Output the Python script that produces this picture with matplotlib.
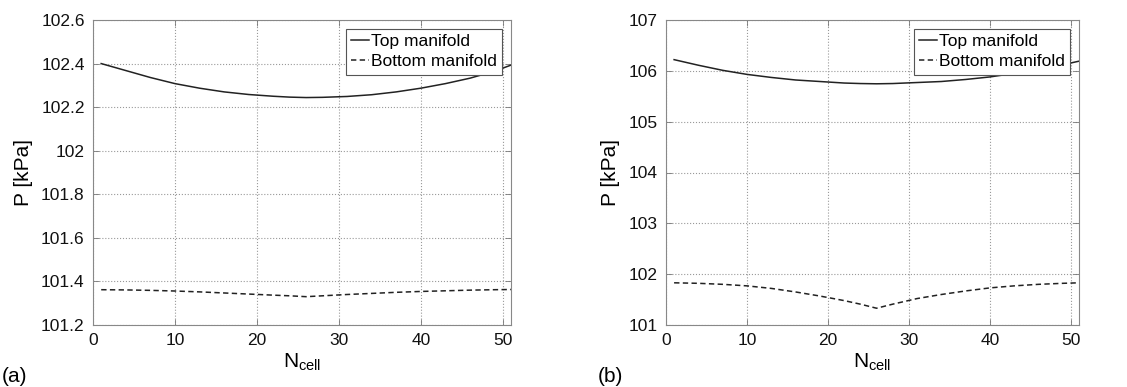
import matplotlib
matplotlib.use("Agg")
import matplotlib.pyplot as plt

plt.rcParams['font.family'] = ['Liberation Sans', 'DejaVu Sans']

# Cell index and manifold pressures [kPa]
n_cell = [1, 4, 7, 10, 13, 16, 19, 22, 24, 26, 28, 31, 34, 37, 40, 43, 46, 49, 51]

top_a = [102.400, 102.368, 102.336, 102.308, 102.287, 102.270, 102.258, 102.250,
         102.246, 102.244, 102.245, 102.249, 102.257, 102.270, 102.287, 102.308,
         102.333, 102.365, 102.393]
bottom_a = [101.362, 101.361, 101.359, 101.356, 101.352, 101.347, 101.342, 101.337,
            101.334, 101.330, 101.334, 101.340, 101.345, 101.350, 101.354, 101.357,
            101.360, 101.362, 101.363]

top_b = [106.22, 106.11, 106.01, 105.93, 105.87, 105.82, 105.79, 105.76,
         105.75, 105.745, 105.75, 105.77, 105.79, 105.83, 105.88, 105.95,
         106.03, 106.12, 106.19]
bottom_b = [101.83, 101.82, 101.80, 101.77, 101.72, 101.65, 101.57, 101.48,
            101.41, 101.33, 101.41, 101.52, 101.60, 101.67, 101.73, 101.77,
            101.80, 101.82, 101.83]

yticks_a = [101.2, 101.4, 101.6, 101.8, 102.0, 102.2, 102.4, 102.6]
yticklabels_a = ['101.2', '101.4', '101.6', '101.8', '102', '102.2', '102.4', '102.6']
yticks_b = [101, 102, 103, 104, 105, 106, 107]
xticks = [0, 10, 20, 30, 40, 50]

W, H = 1127, 387
fig = plt.figure(figsize=(W / 100, H / 100), dpi=100)

ax_a = fig.add_axes([93 / W, 1 - 325 / H, 418 / W, 305 / H])
ax_b = fig.add_axes([666 / W, 1 - 325 / H, 413 / W, 305 / H])

panels = [
    (ax_a, top_a, bottom_a, (101.2, 102.6), yticks_a, yticklabels_a),
    (ax_b, top_b, bottom_b, (101, 107), yticks_b, [str(v) for v in yticks_b]),
]

for ax, top, bot, ylim, yt, ytl in panels:
    ax.plot(n_cell, top, color='#222222', lw=1.1, ls='-', label='Top manifold')
    ax.plot(n_cell, bot, color='#222222', lw=1.1, ls=(0, (3.5, 2.2)), label='Bottom manifold')
    ax.set_xlim(0, 51)
    ax.set_ylim(*ylim)
    ax.set_xticks(xticks)
    ax.set_yticks(yt)
    ax.set_yticklabels(ytl)
    ax.grid(True, ls=':', color='#999999', lw=0.8)
    ax.tick_params(direction='in', top=True, right=True, length=4, width=0.6,
                   color='#777777', labelsize=12.5, pad=6, labelcolor='#111111')
    for s in ax.spines.values():
        s.set_color('#888888')
        s.set_linewidth(0.8)
    ax.set_ylabel('P [kPa]', fontsize=15, labelpad=6)
    ax.set_xlabel(r'N$_{\mathregular{cell}}$', fontsize=15, labelpad=2)
    leg = ax.legend(loc='upper right', fontsize=12.5, handlelength=1.05, handletextpad=0.1,
                    borderpad=0.3, labelspacing=0.3, borderaxespad=0.5,
                    fancybox=False, framealpha=1)
    leg.get_frame().set_edgecolor('#555555')
    leg.get_frame().set_linewidth(0.8)

fig.text(2 / W, 1 - 377 / H, '(a)', fontsize=15, va='center', ha='left')
fig.text(598 / W, 1 - 377 / H, '(b)', fontsize=15, va='center', ha='left')

fig.savefig('out.png', dpi=100)
